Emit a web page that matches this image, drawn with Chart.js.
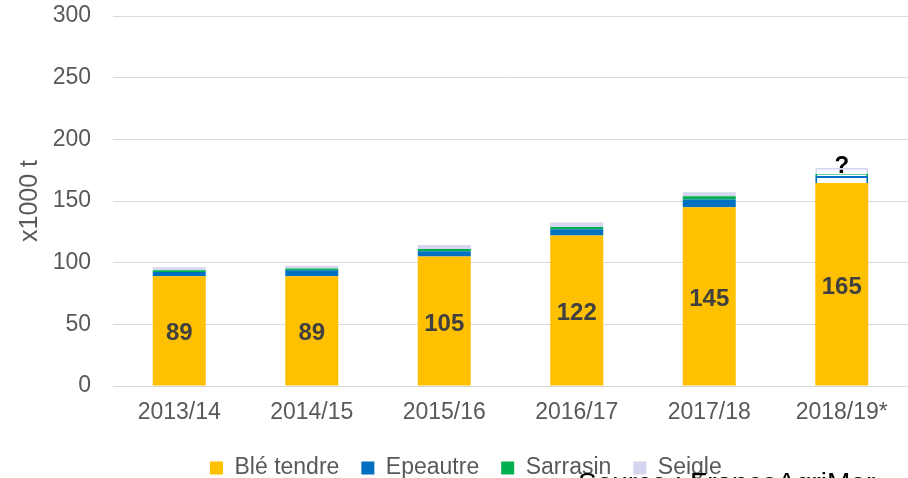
<!DOCTYPE html>
<html>
<head>
<meta charset="utf-8">
<script src="https://cdn.jsdelivr.net/npm/chart.js@4.4.1/dist/chart.umd.min.js"></script>
<style>
  html, body { margin: 0; padding: 0; background: #ffffff; overflow: hidden; }
  #wrap { position: relative; width: 908px; height: 478px; }
</style>
</head>
<body>
<div id="wrap"><canvas id="cerealChart" width="908" height="478"></canvas></div>
<script>
// campaigns on the x axis
const campaigns = ['2013/14', '2014/15', '2015/16', '2016/17', '2017/18', '2018/19*'];

// production, x1000 t
const bleTendre = [89, 89, 105, 122, 145, 164.6];
const epeautre = [3.5, 4.9, 4.2, 5.1, 6.2, 5.7];
const sarrasin = [1.3, 1.3, 1.9, 1.9, 2.7, 1.8];
const seigle = [2.4, 2.2, 3.2, 3.5, 3.2, 4.9];

const yTicks = [0, 50, 100, 150, 200, 250, 300];

// last campaign is a forecast: drawn as outlined boxes
const forecastIndex = 5;

const fontFamily = '"Liberation Sans", Arial, sans-serif';
const textSize = 23;

function forecastFill(color) {
    return ctx => ctx.dataIndex === forecastIndex ? '#ffffff' : color;
}
function forecastBorder(ctx) {
    return ctx.dataIndex === forecastIndex ? 2 : 0;
}

// move the legend row to where the original sits
const legendPlace = {
    id: 'legendPlace',
    afterLayout(chart) {
        const lg = chart.legend;
        if (!lg || !lg.lineWidths) return;
        const pad = lg.options.labels.padding;
        const startX = (lg.left + pad + lg.right - lg.lineWidths[0]) / 2;
        const dx = 210 - startX;
        const dy = 468 - (lg.top + pad + textSize / 2);
        lg.left += dx; lg.right += dx;
        lg.top += dy; lg.bottom += dy;
    }
};

// value labels inside the yellow bars + the "?" above the forecast
const labelPlugin = {
    id: 'labelPlugin',
    afterDatasetsDraw(chart) {
        const ctx = chart.ctx;
        const meta = chart.getDatasetMeta(0);
        ctx.save();
        ctx.font = 'bold 24px ' + fontFamily;
        ctx.fillStyle = '#404040';
        ctx.textAlign = 'center';
        ctx.textBaseline = 'middle';
        meta.data.forEach((bar, i) => {
            ctx.fillText(Math.round(bleTendre[i]), bar.x, (bar.y + bar.base) / 2 + 3);
        });
        const topBar = chart.getDatasetMeta(3).data[forecastIndex];
        ctx.font = 'bold 24px ' + fontFamily;
        ctx.fillStyle = '#000000';
        ctx.textBaseline = 'alphabetic';
        ctx.fillText('?', topBar.x, topBar.y + 5);
        ctx.restore();
    },
    afterDraw(chart) {
        // source line, partly cut by the bottom edge
        const ctx = chart.ctx;
        ctx.save();
        ctx.font = '28px ' + fontFamily;
        ctx.fillStyle = '#000000';
        ctx.textAlign = 'left';
        ctx.textBaseline = 'alphabetic';
        ctx.fillText('Source : FranceAgriMer', 578, 492);
        ctx.restore();
    }
};

const ctx = document.getElementById('cerealChart').getContext('2d');
const chart = new Chart(ctx, {
    type: 'bar',
    data: {
        labels: campaigns,
        datasets: [
            {
                label: 'Blé tendre',
                data: bleTendre,
                backgroundColor: '#FFC000',
                borderWidth: 0
            },
            {
                label: 'Epeautre',
                data: epeautre,
                backgroundColor: forecastFill('#0070C0'),
                borderColor: '#0070C0',
                borderWidth: forecastBorder
            },
            {
                label: 'Sarrasin',
                data: sarrasin,
                backgroundColor: forecastFill('#00B050'),
                borderColor: '#00B050',
                borderWidth: forecastBorder
            },
            {
                label: 'Seigle',
                data: seigle,
                backgroundColor: forecastFill('#D5D5F0'),
                borderColor: '#D5D5F0',
                borderWidth: forecastBorder
            }
        ]
    },
    options: {
        responsive: false,
        animation: false,
        categoryPercentage: 1,
        barPercentage: 0.4,
        layout: {
            padding: { top: 16, right: 0, bottom: 0, left: 0 }
        },
        plugins: {
            legend: {
                position: 'bottom',
                labels: {
                    boxWidth: 13,
                    boxHeight: 13,
                    padding: 22,
                    color: '#595959',
                    font: { family: fontFamily, size: textSize },
                    generateLabels(chart) {
                        return chart.data.datasets.map((ds, i) => ({
                            text: ds.label,
                            fillStyle: ds.borderColor || ds.backgroundColor,
                            strokeStyle: 'rgba(0,0,0,0)',
                            lineWidth: 0,
                            fontColor: '#595959',
                            datasetIndex: i
                        }));
                    }
                }
            },
            tooltip: { enabled: false }
        },
        scales: {
            x: {
                stacked: true,
                grid: { display: false, drawTicks: false },
                border: { color: '#d9d9d9', width: 1 },
                ticks: {
                    padding: 13,
                    color: '#595959',
                    font: { family: fontFamily, size: textSize }
                },
                afterFit(scale) {
                    const legendH = scale.chart.legend ? scale.chart.legend.height : 0;
                    scale.height = scale.chart.height - 386 - legendH;
                }
            },
            y: {
                stacked: true,
                min: 0,
                max: 300,
                afterBuildTicks(scale) {
                    scale.ticks = yTicks.map(v => ({ value: v }));
                },
                grid: { color: '#d9d9d9', lineWidth: 1, drawTicks: false },
                border: { display: false },
                ticks: {
                    padding: 22,
                    color: '#595959',
                    font: { family: fontFamily, size: textSize }
                },
                title: {
                    display: true,
                    text: 'x1000 t',
                    color: '#595959',
                    font: { family: fontFamily, size: 25 },
                    padding: { top: 15, bottom: 4 }
                },
                afterFit(scale) {
                    scale.width = 113;
                    scale.paddingTop = 0;
                    scale.paddingBottom = 0;
                }
            }
        }
    },
    plugins: [legendPlace, labelPlugin]
});
</script>
</body>
</html>
